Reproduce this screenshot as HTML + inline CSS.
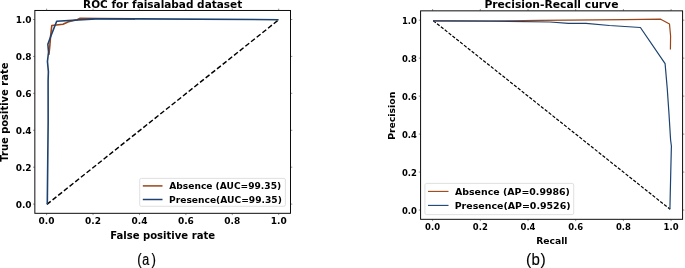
<!DOCTYPE html>
<html lang="en"><head><meta charset="utf-8"><title>ROC and Precision-Recall curves</title>
<style>html,body{margin:0;padding:0;background:#fff}svg{display:block}</style></head><body>
<svg width="685" height="268" viewBox="0 0 685 268">
<rect width="685" height="268" fill="#fff"/>
<rect x="34.85" y="10.45" width="255.65" height="202.85" fill="#fff" stroke="#000" stroke-width="0.95"/>
<path d="M46.60 213.3v1.8M46.60 10.45v-1.8M34.85 204.10h-1.8M290.5 204.10h1.8M93.02 213.3v1.8M93.02 10.45v-1.8M34.85 167.18h-1.8M290.5 167.18h1.8M139.44 213.3v1.8M139.44 10.45v-1.8M34.85 130.26h-1.8M290.5 130.26h1.8M185.86 213.3v1.8M185.86 10.45v-1.8M34.85 93.34h-1.8M290.5 93.34h1.8M232.28 213.3v1.8M232.28 10.45v-1.8M34.85 56.42h-1.8M290.5 56.42h1.8M278.70 213.3v1.8M278.70 10.45v-1.8M34.85 19.50h-1.8M290.5 19.50h1.8" stroke="#222" stroke-width="0.5" fill="none"/>
<g style="font-family:'DejaVu Sans','Liberation Sans',sans-serif;font-weight:bold;font-size:9.0px" fill="#000">
<text x="46.60" y="223.95" text-anchor="middle">0.0</text>
<text x="31.65" y="207.53" text-anchor="end">0.0</text>
<text x="93.02" y="223.95" text-anchor="middle">0.2</text>
<text x="31.65" y="170.61" text-anchor="end">0.2</text>
<text x="139.44" y="223.95" text-anchor="middle">0.4</text>
<text x="31.65" y="133.69" text-anchor="end">0.4</text>
<text x="185.86" y="223.95" text-anchor="middle">0.6</text>
<text x="31.65" y="96.77" text-anchor="end">0.6</text>
<text x="232.28" y="223.95" text-anchor="middle">0.8</text>
<text x="31.65" y="59.85" text-anchor="end">0.8</text>
<text x="278.70" y="223.95" text-anchor="middle">1.0</text>
<text x="31.65" y="22.93" text-anchor="end">1.0</text>
</g>
<line x1="46.9" y1="204.4" x2="278.9" y2="19.6" stroke="#000" stroke-width="1.45" stroke-dasharray="4.9 2.35"/>
<polyline points="48.8,55 49.1,53 49.9,44.9 50.6,36 51.8,25.5 63,24.3 68.5,21.8 77.2,19.7 79.7,18.4 100,18.5 135,18.9" fill="none" stroke="#9A4519" stroke-width="1.6" stroke-linejoin="round" />
<polyline points="47.3,204.2 48.15,122 48.1,81 48.4,71.6 47.45,61.5 48.55,52 47.85,44.2 50.9,36 56.7,21.2 95.8,18.9 140,18.9 278.6,19.7" fill="none" stroke="#1C4270" stroke-width="1.6" stroke-linejoin="round" />
<text x="162.65" y="7.8" text-anchor="middle" style="font-family:'DejaVu Sans','Liberation Sans',sans-serif;font-weight:bold;font-size:10.5px">ROC for faisalabad dataset</text>
<text transform="translate(7.6 112.15) rotate(-90)" text-anchor="middle" style="font-family:'DejaVu Sans','Liberation Sans',sans-serif;font-weight:bold;font-size:9.95px">True positive rate</text>
<text x="162.6" y="239" text-anchor="middle" style="font-family:'DejaVu Sans','Liberation Sans',sans-serif;font-weight:bold;font-size:10.07px">False positive rate</text>
<rect x="139.7" y="178.4" width="145.7" height="27.9" rx="1.6" fill="#fff" fill-opacity="0.8" stroke="#d8d8d8" stroke-width="0.8"/>
<path d="M142.8 185.9H162.5" stroke="#9A4519" stroke-width="1.5"/>
<path d="M142.8 199.5H162.5" stroke="#1C4270" stroke-width="1.5"/>
<text x="169.3" y="189.25" style="font-family:'DejaVu Sans','Liberation Sans',sans-serif;font-weight:bold;font-size:9.11px">Absence (AUC=99.35)</text>
<text x="169.0" y="202.85" style="font-family:'DejaVu Sans','Liberation Sans',sans-serif;font-weight:bold;font-size:9.14px">Presence(AUC=99.35)</text>
<rect x="420.6" y="10.85" width="262.00" height="208.45" fill="#fff" stroke="#000" stroke-width="0.95"/>
<path d="M432.60 219.3v1.8M432.60 10.85v-1.8M420.6 210.05h-1.8M682.6 210.05h1.8M480.30 219.3v1.8M480.30 10.85v-1.8M420.6 172.07h-1.8M682.6 172.07h1.8M528.00 219.3v1.8M528.00 10.85v-1.8M420.6 134.09h-1.8M682.6 134.09h1.8M575.70 219.3v1.8M575.70 10.85v-1.8M420.6 96.11h-1.8M682.6 96.11h1.8M623.40 219.3v1.8M623.40 10.85v-1.8M420.6 58.13h-1.8M682.6 58.13h1.8M671.10 219.3v1.8M671.10 10.85v-1.8M420.6 20.15h-1.8M682.6 20.15h1.8" stroke="#222" stroke-width="0.5" fill="none"/>
<g style="font-family:'DejaVu Sans','Liberation Sans',sans-serif;font-weight:bold;font-size:8.45px" fill="#000">
<text x="432.60" y="229.75" text-anchor="middle">0.0</text>
<text x="416.9" y="213.63" text-anchor="end">0.0</text>
<text x="480.30" y="229.75" text-anchor="middle">0.2</text>
<text x="416.9" y="175.65" text-anchor="end">0.2</text>
<text x="528.00" y="229.75" text-anchor="middle">0.4</text>
<text x="416.9" y="137.67" text-anchor="end">0.4</text>
<text x="575.70" y="229.75" text-anchor="middle">0.6</text>
<text x="416.9" y="99.69" text-anchor="end">0.6</text>
<text x="623.40" y="229.75" text-anchor="middle">0.8</text>
<text x="416.9" y="61.71" text-anchor="end">0.8</text>
<text x="671.10" y="229.75" text-anchor="middle">1.0</text>
<text x="416.9" y="23.73" text-anchor="end">1.0</text>
</g>
<line x1="433.2" y1="20.6" x2="670.1" y2="209.3" stroke="#000" stroke-width="1.2" stroke-dasharray="3.3 1.62"/>
<polyline points="433,20.8 490,21.0 540,20.4 625,19.55 660.7,19.2 669.5,24.1 670.6,36 670.4,49.6" fill="none" stroke="#9A4519" stroke-width="1.2" stroke-linejoin="round" />
<polyline points="433,20.8 490,21.1 550,22 568.5,23.3 586,23.3 609.5,25.5 640.4,27.5 665.1,63.7 667.2,88 669,114 670.6,140 671.4,146 670.9,166 669.9,209.2" fill="none" stroke="#1C4270" stroke-width="1.2" stroke-linejoin="round" />
<text x="551.4" y="8.0" text-anchor="middle" style="font-family:'DejaVu Sans','Liberation Sans',sans-serif;font-weight:bold;font-size:10.75px">Precision-Recall curve</text>
<text transform="translate(395.3 115.8) rotate(-90)" text-anchor="middle" style="font-family:'DejaVu Sans','Liberation Sans',sans-serif;font-weight:bold;font-size:9.3px">Precision</text>
<text x="551.85" y="244.1" text-anchor="middle" style="font-family:'DejaVu Sans','Liberation Sans',sans-serif;font-weight:bold;font-size:9.23px">Recall</text>
<rect x="424.9" y="183.4" width="148.8" height="31.2" rx="1.6" fill="#fff" fill-opacity="0.8" stroke="#d8d8d8" stroke-width="0.8"/>
<path d="M428 191.4H448.5" stroke="#9A4519" stroke-width="1.1"/>
<path d="M428 205.4H448.5" stroke="#1C4270" stroke-width="1.1"/>
<text x="455.0" y="195.15" style="font-family:'DejaVu Sans','Liberation Sans',sans-serif;font-weight:bold;font-size:9.42px">Absence (AP=0.9986)</text>
<text x="454.7" y="208.75" style="font-family:'DejaVu Sans','Liberation Sans',sans-serif;font-weight:bold;font-size:9.45px">Presence(AP=0.9526)</text>
<text transform="translate(137 265.2) scale(0.8 1)" style="font-family:'Liberation Sans',sans-serif;font-size:16.5px" fill="#000" stroke="#000" stroke-width="0.22"><tspan x="0.31" font-size="16.5px">(</tspan><tspan x="6.69" font-size="15.6px">a</tspan><tspan x="18.25" font-size="16.5px">)</tspan></text>
<text transform="translate(526 265.2) scale(0.95 1)" style="font-family:'Liberation Sans',sans-serif;font-size:16.5px" fill="#000" stroke="#000" stroke-width="0.12"><tspan x="0.00" font-size="16.5px">(</tspan><tspan x="5.89" font-size="15.8px">b</tspan><tspan x="15.16" font-size="16.5px">)</tspan></text>
</svg></body></html>
